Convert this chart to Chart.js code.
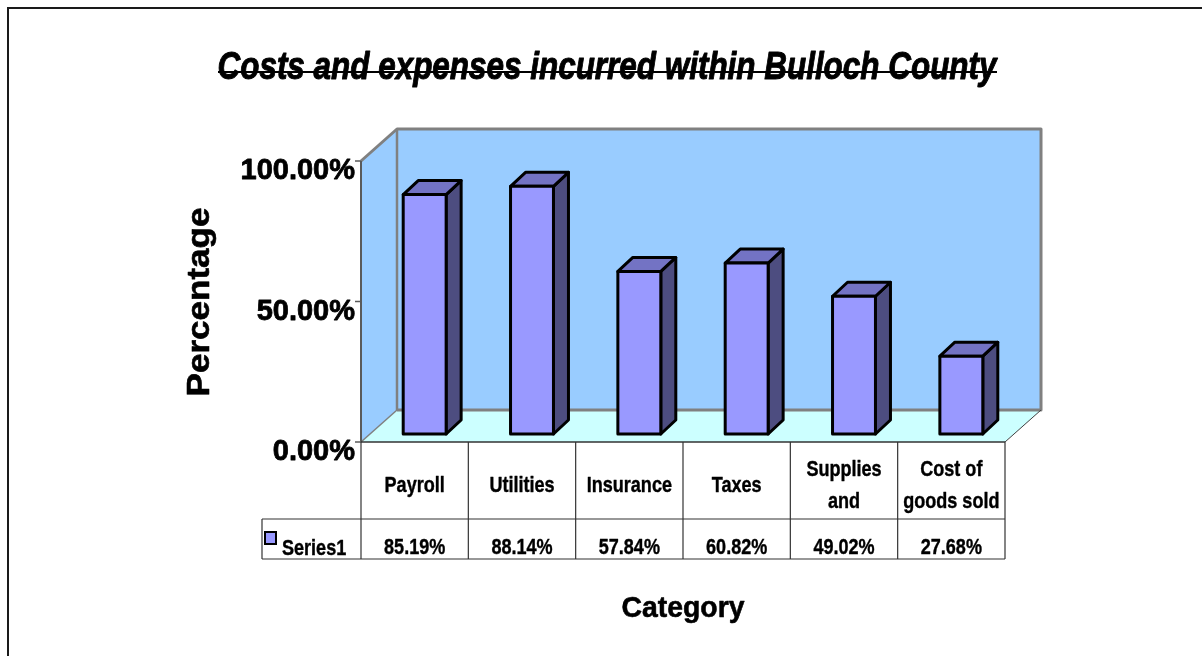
<!DOCTYPE html>
<html>
<head>
<meta charset="utf-8">
<script src="https://cdn.jsdelivr.net/npm/chart.js@4.4.1/dist/chart.umd.min.js"></script>
<style>
  html, body { margin: 0; padding: 0; background: #fff; }
  canvas { display: block; }
</style>
</head>
<body>
<canvas id="chart" width="1202" height="656"></canvas>
<script>
const TITLE = "Costs and expenses incurred within Bulloch County";
const Y_TITLE = "Percentage";
const X_TITLE = "Category";
const SERIES_NAME = "Series1";
const categories = ["Payroll", "Utilities", "Insurance", "Taxes", ["Supplies", "and"], ["Cost of", "goods sold"]];
const values = [85.19, 88.14, 57.84, 60.82, 49.02, 27.68];
const yTicks = [0, 50, 100];

// 3d offsets relative to the plane where the bar fronts sit
const FRONT = { dx: -10, dy: 8 };
const BACK = { dx: 26, dy: -24 };
const DEPTH = { dx: 15, dy: -14 };

const FONT = '"Liberation Sans", Arial, sans-serif';

function pct(v) {
  return v.toFixed(2) + "%";
}

function drawText(ctx, text, x, y, opts) {
  ctx.save();
  ctx.font = opts.font;
  ctx.fillStyle = "#000";
  ctx.textBaseline = opts.baseline || "alphabetic";
  ctx.textAlign = "left";
  const w = ctx.measureText(text).width;
  const sx = opts.width ? opts.width / w : (opts.scaleX || 1);
  ctx.translate(x, y);
  if (opts.rotate) ctx.rotate(opts.rotate);
  ctx.scale(sx, 1);
  let ox = 0;
  if (opts.align === "center") ox = -w / 2;
  if (opts.align === "right") ox = -w;
  ctx.fillText(text, ox, 0);
  if (opts.heavy) {
    // excel renders these a little heavier
    ctx.strokeStyle = "#000";
    ctx.lineWidth = opts.heavy;
    ctx.lineJoin = "round";
    ctx.strokeText(text, ox, 0);
  }
  ctx.restore();
}

function poly(ctx, pts, fill) {
  ctx.beginPath();
  ctx.moveTo(pts[0][0], pts[0][1]);
  for (let i = 1; i < pts.length; i++) ctx.lineTo(pts[i][0], pts[i][1]);
  ctx.closePath();
  if (fill) {
    ctx.fillStyle = fill;
    ctx.fill();
  }
}

function line(ctx, x1, y1, x2, y2, color, width) {
  ctx.beginPath();
  ctx.moveTo(x1, y1);
  ctx.lineTo(x2, y2);
  ctx.strokeStyle = color;
  ctx.lineWidth = width;
  ctx.stroke();
}

function planes(chart) {
  const xs = chart.scales.x, ys = chart.scales.y;
  const y0 = ys.getPixelForValue(0), y1 = ys.getPixelForValue(100);
  return {
    fl: xs.left + FRONT.dx, fr: xs.right + FRONT.dx, fb: y0 + FRONT.dy, ft: y1 + FRONT.dy,
    bl: xs.left + BACK.dx, br: xs.right + BACK.dx, bb: y0 + BACK.dy, bt: y1 + BACK.dy,
  };
}

const threeD = {
  id: "threeD",
  beforeDraw(chart) {
    const ctx = chart.ctx;
    ctx.save();
    ctx.fillStyle = "#fff";
    ctx.fillRect(0, 0, chart.width, chart.height);
    ctx.strokeStyle = "#1a1a1a";
    ctx.lineWidth = 2;
    ctx.strokeRect(8, 8, chart.width + 20, chart.height + 20);
    ctx.restore();
  },
  beforeDatasetsDraw(chart) {
    const ctx = chart.ctx;
    const p = planes(chart);
    ctx.save();
    // back wall, left wall, floor
    poly(ctx, [[p.bl, p.bt], [p.br, p.bt], [p.br, p.bb], [p.bl, p.bb]], "#99CCFF");
    poly(ctx, [[p.fl, p.ft], [p.bl, p.bt], [p.bl, p.bb], [p.fl, p.fb]], "#99CCFF");
    poly(ctx, [[p.fl, p.fb], [p.bl, p.bb], [p.br, p.bb], [p.fr, p.fb]], "#CCFFFF");

    ctx.lineJoin = "round";
    ctx.strokeStyle = "#808080";
    ctx.lineWidth = 3;
    ctx.beginPath();
    ctx.moveTo(p.fl, p.ft);
    ctx.lineTo(p.bl, p.bt);
    ctx.lineTo(p.br, p.bt);
    ctx.lineTo(p.br, p.bb);
    ctx.lineTo(p.bl, p.bb);
    ctx.stroke();
    line(ctx, p.bl, p.bt, p.bl, p.bb, "#808080", 2.5);
    line(ctx, p.fl, p.fb, p.bl, p.bb, "#808080", 1.5);
    line(ctx, p.fr, p.fb, p.br, p.bb, "#404040", 1);
    // value axis on the front edge
    line(ctx, p.fl, p.ft, p.fl, p.fb, "#5a5a5a", 2);
    const ys = chart.scales.y;
    yTicks.forEach((v) => {
      const ty = ys.getPixelForValue(v) + FRONT.dy;
      line(ctx, p.fl - 6, ty, p.fl, ty, "#5a5a5a", 1.5);
    });
    ctx.restore();
  },
  afterDatasetsDraw(chart) {
    const ctx = chart.ctx;
    const meta = chart.getDatasetMeta(0);
    ctx.save();
    ctx.lineJoin = "round";
    ctx.lineWidth = 3;
    ctx.strokeStyle = "#000";
    meta.data.forEach((bar) => {
      const l = bar.x - bar.width / 2, r = bar.x + bar.width / 2;
      const t = bar.y, b = bar.base;
      const dx = DEPTH.dx, dy = DEPTH.dy;
      const side = [[r, t], [r + dx, t + dy], [r + dx, b + dy], [r, b]];
      const top = [[l, t], [l + dx, t + dy], [r + dx, t + dy], [r, t]];
      const front = [[l, t], [r, t], [r, b], [l, b]];
      poly(ctx, side, "#4D4D80"); ctx.stroke();
      poly(ctx, top, "#7373C4"); ctx.stroke();
      poly(ctx, front, "#9999FF"); ctx.stroke();
    });
    ctx.restore();
  },
  afterDraw(chart) {
    const ctx = chart.ctx;
    const p = planes(chart);
    const ys = chart.scales.y;
    const n = categories.length;
    const cw = (p.fr - p.fl) / n;

    // title with its strike line
    drawText(ctx, TITLE, 607, 79, { font: `italic bold 39px ${FONT}`, align: "center", width: 779, heavy: 1 });
    line(ctx, 218, 72, 997, 72, "#000", 2);

    // value axis labels
    yTicks.forEach((v) => {
      const ty = ys.getPixelForValue(v) + FRONT.dy;
      drawText(ctx, pct(v), p.fl - 6, ty + 18, { font: `bold 29px ${FONT}`, align: "right", width: 0, heavy: 0.8 });
    });

    drawText(ctx, Y_TITLE, 200, 302, { font: `bold 32px ${FONT}`, align: "center", baseline: "middle", rotate: -Math.PI / 2, width: 189, heavy: 0.6 });
    drawText(ctx, X_TITLE, 683, 617, { font: `bold 30px ${FONT}`, align: "center", width: 123, heavy: 0.6 });

    // data table
    const hTop = p.fb, hBot = 519, rBot = 559, leftCell = 262;
    ctx.save();
    line(ctx, p.fl, hTop, p.fr, hTop, "#333", 1.5);
    line(ctx, leftCell, hBot, p.fr, hBot, "#333", 1.2);
    line(ctx, leftCell, rBot, p.fr, rBot, "#333", 1.2);
    line(ctx, leftCell, hBot, leftCell, rBot, "#333", 1.2);
    for (let i = 0; i <= n; i++) {
      const x = p.fl + i * cw;
      line(ctx, x, hTop, x, rBot, "#333", 1.2);
    }
    ctx.restore();

    const tFont = `bold 22px ${FONT}`;
    categories.forEach((c, i) => {
      const cx = p.fl + (i + 0.5) * cw;
      const lines = Array.isArray(c) ? c : [c];
      const start = 492 - (lines.length - 1) * 16;
      lines.forEach((s, j) => {
        drawText(ctx, s, cx, start + j * 32, { font: tFont, align: "center", scaleX: 0.82, heavy: 0.4 });
      });
      drawText(ctx, pct(values[i]), cx, 554, { font: tFont, align: "center", scaleX: 0.82, heavy: 0.4 });
    });

    // legend key
    ctx.save();
    ctx.fillStyle = "#9999FF";
    ctx.fillRect(265, 532, 11, 12);
    ctx.strokeStyle = "#000";
    ctx.lineWidth = 2;
    ctx.strokeRect(265, 532, 11, 12);
    ctx.restore();
    drawText(ctx, SERIES_NAME, 282, 555, { font: tFont, align: "left", scaleX: 0.82, heavy: 0.4 });
  },
};

new Chart(document.getElementById("chart"), {
  type: "bar",
  data: {
    labels: categories,
    datasets: [{
      label: SERIES_NAME,
      data: values,
      backgroundColor: "rgba(0,0,0,0)",
      borderWidth: 0,
      barPercentage: 0.4,
      categoryPercentage: 1.0,
    }],
  },
  options: {
    responsive: false,
    animation: false,
    devicePixelRatio: 1,
    layout: { padding: { left: 371, top: 153, right: 187, bottom: 222 } },
    plugins: { legend: { display: false }, title: { display: false }, tooltip: { enabled: false } },
    scales: {
      x: { display: false, grid: { display: false } },
      y: { display: false, min: 0, max: 100 },
    },
  },
  plugins: [threeD],
});
</script>
</body>
</html>
